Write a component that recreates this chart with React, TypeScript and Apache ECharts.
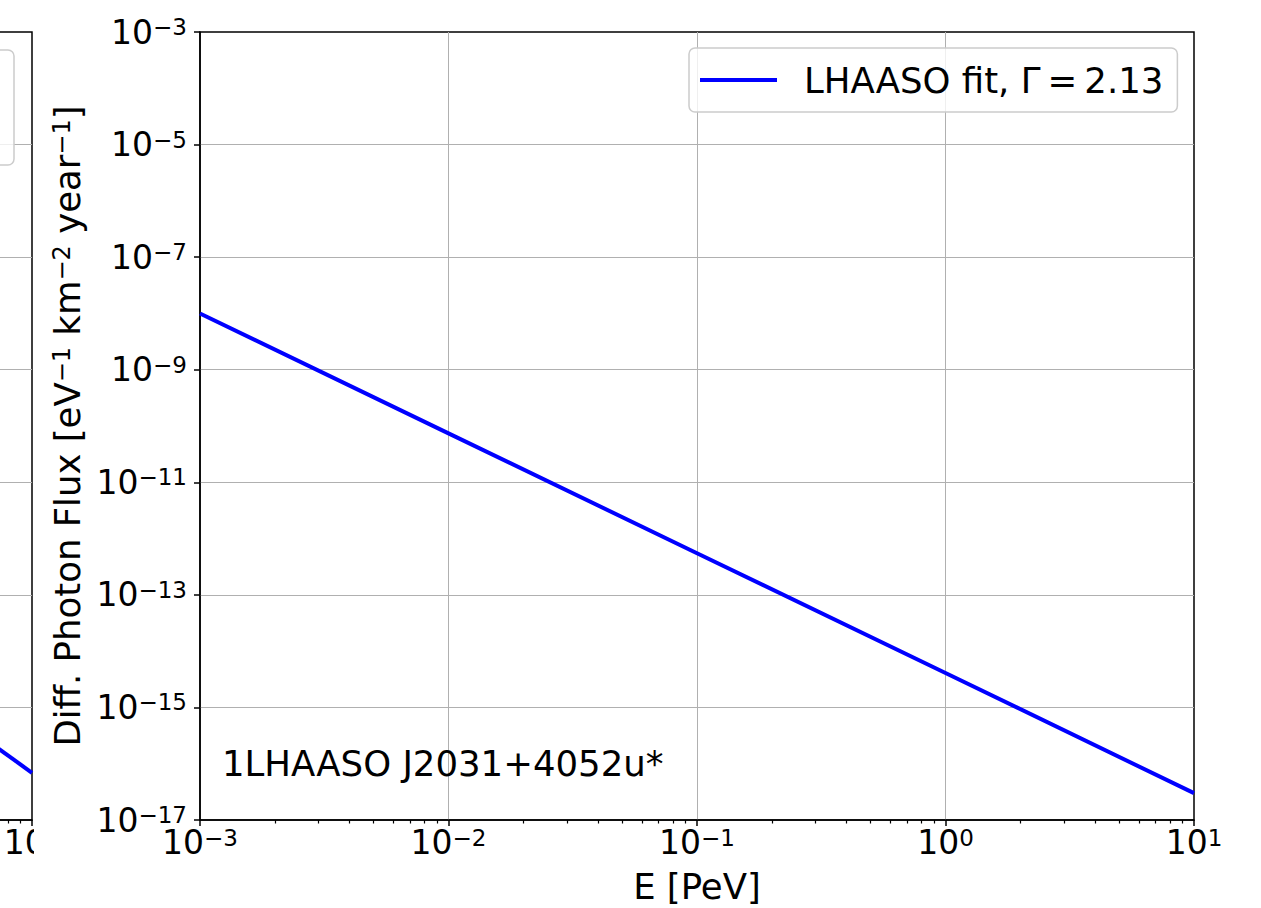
import React, { useEffect, useRef } from 'react';
import * as echarts from 'echarts';

// Power-law fit sampled at each energy decade (E in PeV, flux in eV^-1 km^-2 year^-1)
const energyPeV = [0.001, 0.01, 0.1, 1, 10];
const fitFlux = [1.0e-8, 7.4e-11, 5.5e-13, 4.1e-15, 3.0e-17];

// Tail end of the curve in the neighbouring panel
const leftEnergyPeV = [5, 10];
const leftFlux = [6.3e-16, 6.9e-17];

const xMajorTicks = [0.001, 0.01, 0.1, 1, 10];
const xMinorTicks = [
  0.002, 0.003, 0.004, 0.005, 0.006, 0.007, 0.008, 0.009,
  0.02, 0.03, 0.04, 0.05, 0.06, 0.07, 0.08, 0.09,
  0.2, 0.3, 0.4, 0.5, 0.6, 0.7, 0.8, 0.9,
  2, 3, 4, 5, 6, 7, 8, 9,
];
const leftVisibleXLabels = [10];
const yMajorTicks = [1e-17, 1e-15, 1e-13, 1e-11, 1e-9, 1e-7, 1e-5, 1e-3];

const seriesName = 'LHAASO fit, Γ\u2009=\u20092.13';
const neighbourName = 'neighbour';
const sourceLabel = '1LHAASO J2031+4052u*';
const xTitle = 'E [PeV]';
const yTitle = 'Diff. Photon Flux [eV{s|−1} km{s|−2} year{s|−1}]';

const FONT = 'DejaVu Sans';
const TICK_SIZE = 33;
const LABEL_SIZE = 35.5;
const SUP_SIZE = 23;

const powLabel = (v: number) => {
  const e = Math.round(Math.log10(v));
  const s = e < 0 ? '\u2212' + -e : String(e);
  return `{b|10}{s|${s}}`;
};

const tickRich = {
  b: { fontFamily: FONT, fontSize: TICK_SIZE, color: '#000' },
  s: { fontFamily: FONT, fontSize: SUP_SIZE, color: '#000', verticalAlign: 'top' },
};

function buildOption() {
  const gridLine = { show: true, showMinLine: false, showMaxLine: false, lineStyle: { color: '#b0b0b0', width: 1 } };
  const spine = { show: true, lineStyle: { color: '#000', width: 1.5 } };

  const grids = [
    { left: 200, top: 32, width: 994, height: 788, show: true, borderColor: '#000', borderWidth: 1.5, backgroundColor: 'transparent', outerBoundsMode: 'none', containLabel: false },
    { left: -962, top: 32, width: 994, height: 788, show: true, borderColor: '#000', borderWidth: 1.5, backgroundColor: 'transparent', outerBoundsMode: 'none', containLabel: false },
  ];

  const makeX = (gridIndex: number, main: boolean) => [
    {
      type: 'log', logBase: 10, gridIndex, min: 0.001, max: 10, position: 'bottom',
      name: main ? xTitle : '', nameLocation: 'middle', nameGap: 48,
      nameTextStyle: { fontFamily: FONT, fontSize: LABEL_SIZE, color: '#000' },
      axisLine: spine,
      axisTick: { show: true, customValues: xMajorTicks, length: 6, lineStyle: { color: '#000', width: 1.5 } },
      axisLabel: {
        show: true, customValues: main ? xMajorTicks : leftVisibleXLabels,
        margin: 6, formatter: powLabel, rich: tickRich,
      },
      splitLine: gridLine,
    },
    {
      type: 'log', logBase: 10, gridIndex, min: 0.001, max: 10, position: 'bottom',
      axisLine: { show: false },
      axisTick: { show: true, customValues: xMinorTicks, length: 3.5, lineStyle: { color: '#000', width: 1.2 } },
      axisLabel: { show: false },
      splitLine: { show: false },
    },
  ];

  const makeY = (gridIndex: number, main: boolean) => ({
    type: 'log', logBase: 10, gridIndex, min: 1e-17, max: 1e-3, position: 'left',
    name: main ? yTitle : '', nameLocation: 'middle', nameGap: 112, nameRotate: 90,
    nameTextStyle: {
      fontFamily: FONT, fontSize: LABEL_SIZE, color: '#000',
      rich: { s: { fontFamily: FONT, fontSize: 24, color: '#000', verticalAlign: 'top' } },
    },
    axisLine: spine,
    axisTick: { show: main, customValues: yMajorTicks, length: 6, lineStyle: { color: '#000', width: 1.5 } },
    axisLabel: { show: main, customValues: yMajorTicks, margin: 13, formatter: powLabel, rich: tickRich },
    splitLine: gridLine,
  });

  return {
    animation: false,
    backgroundColor: '#fff',
    grid: grids,
    xAxis: [...makeX(0, true), ...makeX(1, false)],
    yAxis: [makeY(0, true), makeY(1, false)],
    legend: {
      data: [seriesName],
      left: 689, top: 48,
      icon: 'rect', itemWidth: 77, itemHeight: 4,
      padding: [14, 14, 14, 11],
      backgroundColor: 'rgba(255,255,255,0.8)',
      borderColor: '#cccccc', borderWidth: 1.5, borderRadius: 6,
      formatter: (name: string) => `{t|${name}}`,
      textStyle: {
        rich: { t: { fontFamily: FONT, fontSize: LABEL_SIZE, color: '#000', padding: [0, 0, 0, 22] } },
      },
    },
    series: [
      {
        name: seriesName, type: 'line', xAxisIndex: 0, yAxisIndex: 0,
        data: energyPeV.map((e, i) => [e, fitFlux[i]]),
        showSymbol: false, symbol: 'none',
        lineStyle: { color: '#0000ff', width: 4 }, itemStyle: { color: '#0000ff' },
        z: 3,
      },
      {
        name: neighbourName, type: 'line', xAxisIndex: 2, yAxisIndex: 1,
        data: leftEnergyPeV.map((e, i) => [e, leftFlux[i]]),
        showSymbol: false, symbol: 'none',
        lineStyle: { color: '#0000ff', width: 4 }, itemStyle: { color: '#0000ff' },
        z: 3,
      },
    ],
    graphic: [
      {
        type: 'text', left: 222, top: 745, z: 10,
        style: { text: sourceLabel, font: `${LABEL_SIZE}px "${FONT}"`, fill: '#000' },
      },
      {
        // partially visible legend frame of the neighbouring panel
        type: 'rect', z: 5,
        shape: { x: -400, y: 50, width: 414, height: 115, r: 6 },
        style: { fill: 'rgba(255,255,255,0.8)', stroke: '#cccccc', lineWidth: 1.5 },
      },
      {
        type: 'rect', z: 20,
        shape: { x: 34, y: 827, width: 64, height: 50 },
        style: { fill: '#ffffff' },
      },
    ],
  };
}

export default function App() {
  const ref = useRef<HTMLDivElement>(null);
  useEffect(() => {
    if (!ref.current) return;
    const chart = echarts.init(ref.current, undefined, { renderer: 'svg' });
    chart.setOption(buildOption() as any);
    return () => chart.dispose();
  }, []);
  return <div ref={ref} style={{ width: 1261, height: 908, position: 'absolute', left: 0, top: 0 }} />;
}
